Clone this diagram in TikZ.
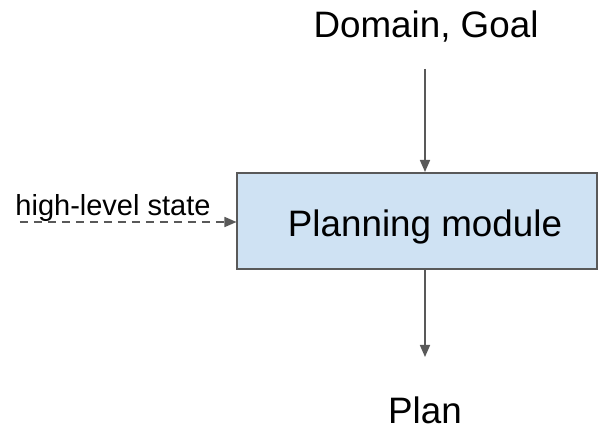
\documentclass[tikz,border=0pt]{standalone}
\usepackage{fontspec}
\setmainfont{Liberation Sans}
\usetikzlibrary{arrows.meta}
\definecolor{boxfill}{HTML}{CFE2F3}
\definecolor{edge}{HTML}{595959}
\tikzset{
  module/.style={draw=edge, line width=1pt, fill=boxfill, minimum width=180pt, minimum height=48pt, inner sep=0pt},
  label/.style={inner sep=0pt, anchor=base, font=\fontsize{18.4}{20}\selectfont},
  smalllabel/.style={inner sep=0pt, anchor=base, font=\fontsize{14.5}{16}\selectfont},
  flow/.style={draw=edge, line width=0.8pt, -{Triangle[length=6pt,width=5pt]}},
  dashflow/.style={flow, dash pattern=on 4pt off 3pt}
}
\begin{document}
\begin{tikzpicture}[x=0.5pt, y=-0.5pt]
  \useasboundingbox (0,0) rectangle (602,428);
  % the module box and its title
  \node[module] (pm) at (417.5,221) {};
  \node[label] (pmtext) at (425,237) {Planning module};
  % inputs and output
  \node[label] (dg) at (426,38) {Domain, Goal};
  \node[label] (plan) at (425,424) {Plan};
  \node[smalllabel] (hls) at (113,215) {high-level state};
  \coordinate (din) at (425,69);
  \coordinate (pout) at (425,357);
  \coordinate (hin) at (20,222);
  \draw[flow] (din) -- (din |- pm.north);
  \draw[flow] (pm.south -| pout) -- (pout);
  \draw[dashflow] (hin) -- (pm.west |- hin);
\end{tikzpicture}
\end{document}
